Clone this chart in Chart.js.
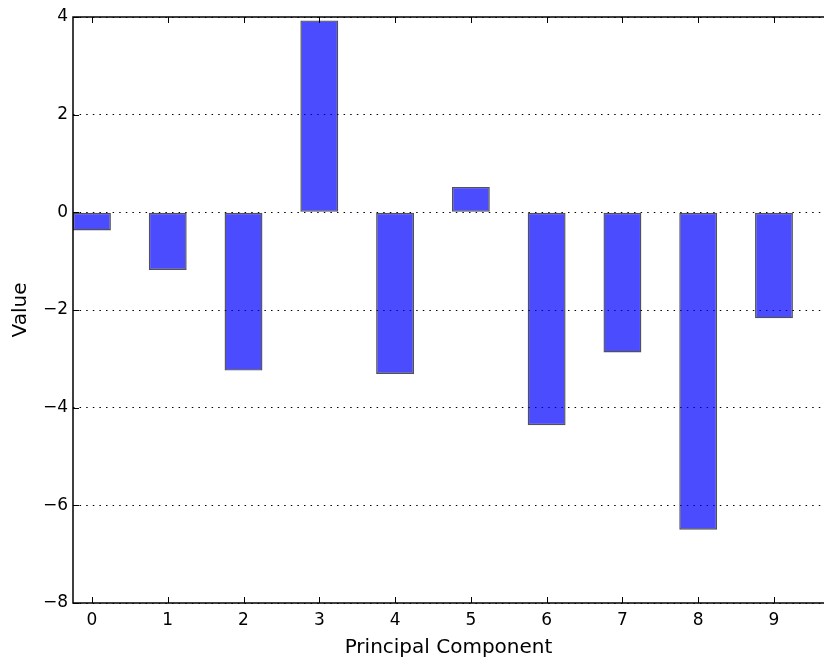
<!DOCTYPE html>
<html>
<head>
<meta charset="utf-8">
<script src="https://cdn.jsdelivr.net/npm/chart.js@4/dist/chart.umd.min.js"></script>
<style>
  html, body { margin: 0; padding: 0; background: #fff; }
  #wrap { width: 824px; height: 663px; position: relative; }
</style>
</head>
<body>
<div id="wrap"><canvas id="c"></canvas></div>
<script>
const categories = [0, 1, 2, 3, 4, 5, 6, 7, 8, 9];
const values = [-0.37, -1.18, -3.24, 3.93, -3.31, 0.52, -4.36, -2.87, -6.50, -2.17];
const yTicks = [-8, -6, -4, -2, 0, 2, 4];
const xLabel = 'Principal Component';
const yLabel = 'Value';

const fontFamily = '"DejaVu Sans", sans-serif';
const fmt = v => (v < 0 ? '\u2212' + Math.abs(v) : String(v));

const framePlugin = {
  id: 'frame',
  afterDraw(chart) {
    const { ctx, chartArea: a, scales } = chart;
    const tl = 6;
    ctx.save();
    ctx.strokeStyle = '#000';
    ctx.lineWidth = 1;
    ctx.beginPath();
    scales.x.ticks.forEach(t => {
      const px = Math.round(scales.x.getPixelForValue(t.value)) + 0.5;
      ctx.moveTo(px, a.bottom); ctx.lineTo(px, a.bottom - tl);
      ctx.moveTo(px, a.top); ctx.lineTo(px, a.top + tl);
    });
    scales.y.ticks.forEach(t => {
      const py = Math.round(scales.y.getPixelForValue(t.value)) + 0.5;
      ctx.moveTo(a.left, py); ctx.lineTo(a.left + tl, py);
    });
    ctx.stroke();
    ctx.lineWidth = 1.5;
    ctx.beginPath();
    ctx.moveTo(a.right + 2, a.top); ctx.lineTo(a.left, a.top);
    ctx.lineTo(a.left, a.bottom); ctx.lineTo(a.right + 2, a.bottom);
    ctx.stroke();
    ctx.restore();
  }
};

new Chart(document.getElementById('c'), {
  type: 'bar',
  data: {
    datasets: [{
      data: categories.map((c, i) => ({ x: c, y: values[i] })),
      backgroundColor: 'rgba(0,0,255,0.7)',
      borderColor: 'rgba(0,0,0,0.68)',
      borderWidth: 1.4,
      borderSkipped: false,
      barPercentage: 0.5,
      categoryPercentage: 1.0
    }]
  },
  options: {
    responsive: true,
    maintainAspectRatio: false,
    animation: false,
    devicePixelRatio: 1,
    layout: { padding: { top: 17, right: 0, left: 0, bottom: 0 } },
    plugins: { legend: { display: false }, tooltip: { enabled: false } },
    scales: {
      x: {
        type: 'linear',
        min: -0.25,
        max: 9.66,
        offset: false,
        afterBuildTicks: s => { s.ticks = categories.map(v => ({ value: v })); },
        afterFit: s => { s.height = 60; },
        grid: { display: false, offset: false, drawTicks: false, tickLength: 0 },
        border: { display: false },
        ticks: {
          color: '#000',
          padding: 7,
          maxRotation: 0,
          autoSkip: false,
          font: { family: fontFamily, size: 17 },
          callback: v => String(v)
        },
        title: {
          display: true,
          text: xLabel,
          color: '#000',
          font: { family: fontFamily, size: 20 },
          padding: { top: 0, bottom: 3.5 }
        }
      },
      y: {
        type: 'linear',
        min: -8,
        max: 4,
        afterBuildTicks: s => { s.ticks = yTicks.map(v => ({ value: v })); },
        afterFit: s => { s.width = 73; },
        grid: { display: true, color: '#000', lineWidth: 1, drawTicks: false, tickLength: 0 },
        border: { display: false, dash: [1.5, 5.1] },
        ticks: {
          color: '#000',
          padding: 5,
          font: { family: fontFamily, size: 17 },
          callback: v => fmt(v)
        },
        title: {
          display: true,
          text: yLabel,
          color: '#000',
          font: { family: fontFamily, size: 20 },
          padding: { top: 9, bottom: 0 }
        }
      }
    }
  },
  plugins: [framePlugin]
});
</script>
</body>
</html>
